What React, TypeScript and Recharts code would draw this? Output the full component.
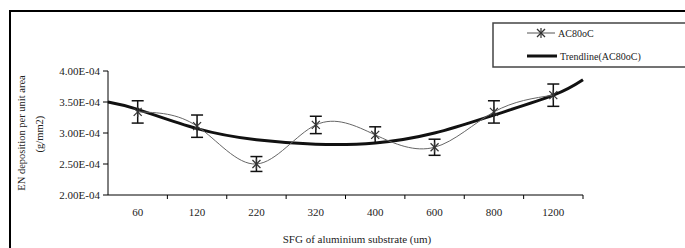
import { ComposedChart, Line, XAxis, YAxis, ErrorBar } from "recharts";

const grits = ["60", "120", "220", "320", "400", "600", "800", "1200"];
const depositAC80 = [3.34e-4, 3.11e-4, 2.5e-4, 3.13e-4, 2.97e-4, 2.77e-4, 3.34e-4, 3.61e-4];
const errorAC80 = [0.18e-4, 0.18e-4, 0.12e-4, 0.14e-4, 0.13e-4, 0.13e-4, 0.18e-4, 0.18e-4];

// trendline, at category positions (0.5 and 8.5 are the plot edges)
const trendPos = [0.5, 1, 2, 3, 4, 5, 6, 7, 8, 8.5];
const trendAC80 = [3.5e-4, 3.38e-4, 3.07e-4, 2.89e-4, 2.82e-4, 2.84e-4, 3.0e-4, 3.29e-4, 3.61e-4, 3.86e-4];

const yTicks = [2e-4, 2.5e-4, 3e-4, 3.5e-4, 4e-4];

const data = grits.map((g, i) => ({ pos: i + 1, grit: g, value: depositAC80[i], err: errorAC80[i] }));
const trend = trendPos.map((p, i) => ({ pos: p, trend: trendAC80[i] }));

const font = "'Liberation Serif', 'Times New Roman', serif";

function sci(v: number) {
  const [m, e] = v.toExponential(2).toUpperCase().split("E");
  return `${m}E${e[0]}${e.slice(1).padStart(2, "0")}`;
}

function Star(props: any) {
  const { cx, cy } = props;
  if (cx == null || cy == null) return null;
  const r = 4;
  return (
    <g stroke="#333" strokeWidth={1.2}>
      <line x1={cx - r} y1={cy - r} x2={cx + r} y2={cy + r} />
      <line x1={cx - r} y1={cy + r} x2={cx + r} y2={cy - r} />
      <line x1={cx} y1={cy - r - 1} x2={cx} y2={cy + r + 1} />
    </g>
  );
}

function GritTick(props: any) {
  const { x, y, payload } = props;
  const half = 29.7;
  return (
    <g>
      <line x1={x + half} x2={x + half} y1={y - 13} y2={y - 9} stroke="#000" strokeWidth={1} />
      <text x={x} y={y} dy="0.71em" textAnchor="middle" fontSize={11} fontFamily={font} fill="#222">
        {grits[payload.value - 1]}
      </text>
    </g>
  );
}

export default function App() {
  return (
    <div style={{ position: "absolute", left: 0, top: 0, width: 685, height: 248, overflow: "hidden", background: "#fff" }}>
      <ComposedChart
        width={685}
        height={248}
        data={data}
        margin={{ top: 71, right: 102, bottom: 28, left: 10 }}
      >
        <XAxis
          dataKey="pos"
          type="number"
          domain={[0.5, 8.5]}
          ticks={[1, 2, 3, 4, 5, 6, 7, 8]}
          tickLine={false}
          tickSize={0}
          tickMargin={13}
          height={25}
          stroke="#000"
          tick={<GritTick />}
        />
        <YAxis
          type="number"
          domain={[2e-4, 4e-4]}
          ticks={yTicks}
          tickFormatter={sci}
          width={98}
          tickSize={5}
          tickMargin={3}
          stroke="#000"
          tick={{ fontSize: 11, fontFamily: font, fill: "#222" }}
        />
        <Line
          data={trend}
          dataKey="trend"
          type="natural"
          stroke="#111"
          strokeWidth={3}
          dot={false}
          isAnimationActive={false}
        />
        <Line
          dataKey="value"
          type="natural"
          stroke="#666"
          strokeWidth={1}
          dot={<Star />}
          activeDot={false}
          isAnimationActive={false}
        >
          <ErrorBar dataKey="err" direction="y" width={6} stroke="#111" strokeWidth={1.5} />
        </Line>
      </ComposedChart>

      <svg width={685} height={248} style={{ position: "absolute", left: 0, top: 0, pointerEvents: "none" }}>
        <rect x={10} y={11} width={700} height={260} fill="none" stroke="#000" strokeWidth={2} />
        <g fontFamily={font} fill="#222">
          <text x={25} y={133} fontSize={10.5} textAnchor="middle" transform="rotate(-90 25 133)">
            EN deposition per unit area
          </text>
          <text x={43} y={134} fontSize={10.5} textAnchor="middle" transform="rotate(-90 43 134)">
            (g/mm2)
          </text>
          <text x={357} y={243} fontSize={11} textAnchor="middle">
            SFG of aluminium substrate (um)
          </text>
        </g>
        <rect x={493} y={23} width={200} height={44} fill="#fff" stroke="#444" strokeWidth={1.5} />
        <line x1={527} x2={555} y1={33} y2={33} stroke="#555" strokeWidth={1} />
        <Star cx={541} cy={33} />
        <text x={558} y={36.5} fontSize={10} fontFamily={font} fill="#222">AC80oC</text>
        <line x1={527} x2={557} y1={56} y2={56} stroke="#111" strokeWidth={3} />
        <text x={560} y={59.5} fontSize={10} fontFamily={font} fill="#222">Trendline(AC80oC)</text>
      </svg>
    </div>
  );
}
